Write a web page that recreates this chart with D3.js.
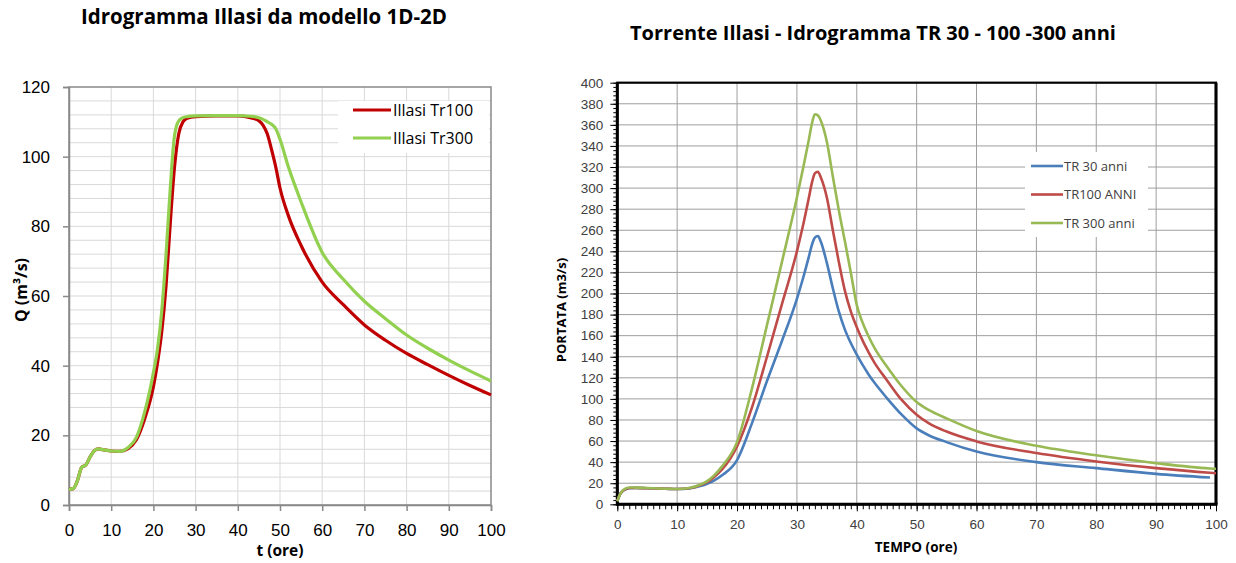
<!DOCTYPE html>
<meta charset="utf-8">
<style type="text/css">
    body { margin: 0; background: #fff; }
    svg { display: block; font-family: "Open Sans", Lato, sans-serif; }
    .left .tick text { font-size: 17px; fill: #000; }
    .right .tick text { font-size: 13.5px; fill: #404040; }
</style>
<body>
    <div id="canvas"></div>
</body>
<script src="https://d3js.org/d3.v7.min.js"></script>
<script>

// ---- left chart data: Idrogramma Illasi da modello 1D-2D
var tLeft  = [0, 1, 2, 3, 4, 5, 6, 7, 8, 10, 12, 14, 16, 18, 20, 21, 22, 23, 24, 25, 26, 27, 28, 30, 35, 40, 43, 45, 46, 47, 48, 49, 50, 52, 55, 60, 65, 70, 75, 80, 85, 90, 95, 100];
var qTr100 = [4.5, 4.7, 7, 10.8, 11.5, 13.8, 15.6, 16.1, 15.9, 15.5, 15.4, 16.2, 18.8, 25, 34, 41, 50, 63, 81, 97, 106.5, 110, 111, 111.5, 111.7, 111.7, 111.2, 110.3, 109, 106.5, 102, 97, 91, 83, 74.5, 64, 57.5, 51.7, 47.3, 43.5, 40.3, 37.2, 34.3, 31.6];
var qTr300 = [4.5, 4.7, 7, 10.8, 11.5, 13.8, 15.6, 16.1, 15.9, 15.5, 15.4, 16.5, 19.5, 27, 38, 45, 56, 72, 91, 106, 110.3, 111.2, 111.5, 111.7, 111.8, 111.8, 111.6, 111.2, 110.7, 110, 109.3, 108, 105, 97, 87, 72.5, 64.8, 58.5, 53.5, 48.8, 45, 41.6, 38.5, 35.6];
var leftNames  = ["Illasi Tr100", "Illasi Tr300"];
var leftColors = ["#c00000", "#92d050"];
var leftXTicks = [0, 10, 20, 30, 40, 50, 60, 70, 80, 90, 100];
var leftYTicks = [0, 20, 40, 60, 80, 100, 120];

// ---- right chart data: Torrente Illasi - Idrogramma TR 30 - 100 - 300 anni
var tRight = [0, 0.5, 1, 2, 3, 5, 8, 10, 12, 14, 15, 16, 17.5, 20, 22.5, 25, 27.5, 30, 31, 32, 32.5, 33, 33.5, 34, 35, 36, 37, 38, 39, 40, 41, 42, 43, 45, 47.5, 50, 52, 55, 60, 70, 80, 90, 99, 100];
var qTr30   = [3, 10, 13, 15.3, 15.5, 15.2, 14.8, 14.5, 15, 17.5, 19.5, 22, 27.5, 42, 77, 117, 155, 195, 214, 235, 246, 253, 254.5, 249, 229, 205, 183, 166, 153, 142, 132, 123, 115, 101, 85, 72, 65.5, 59, 50, 40, 34.3, 28.9, 25.4, null];
var qTr100r = [3, 10, 13, 15.5, 15.6, 15.2, 14.8, 14.5, 15.2, 18.5, 21, 25, 33, 55, 92, 140, 190, 240, 264, 291, 305, 314, 315.5, 310, 291, 260, 230, 203, 183, 168, 155, 144, 134, 118, 99, 85, 77, 69, 59.7, 48.6, 40.6, 34.3, 29.9, 29.5];
var qTr300r = [3, 10, 13.5, 16, 15.8, 15.4, 14.8, 14.5, 15.4, 19, 22, 26.5, 36, 59, 110, 170, 230, 291, 318, 346, 361, 370, 369, 364, 344, 311, 279, 250, 220, 189, 172, 159, 148, 131, 112, 97, 89.5, 81.5, 69.5, 55.5, 46.5, 39, 34, 33.7];
var rightNames  = ["TR 30 anni", "TR100 ANNI", "TR 300 anni"];
var rightColors = ["#4a7ebb", "#be4b48", "#98b954"];
var rightXTicks = [0, 10, 20, 30, 40, 50, 60, 70, 80, 90, 100];
var rightYTicks = d3.range(0, 401, 20);

var svg = d3.select("#canvas").append("svg")
    .attr("width", 1236)
    .attr("height", 563);

svg.append("rect").attr("width", 1236).attr("height", 563).attr("fill", "#fff");

function pairs(ts, qs) {
    return ts.map(function(t, i){ return { t: t, q: qs[i] }; });
}

/////////////////////// LEFT CHART ///////////////////////
var xL = d3.scaleLinear().domain([0, 100]).range([69, 491]);
var yL = d3.scaleLinear().domain([0, 120]).range([505, 87]);
var left = svg.append("g").attr("class", "left");

// grid - minor every 4, verticals every 10
left.selectAll("line.hgrid")
    .data(d3.range(4, 120, 4))
    .join("line")
        .attr("x1", xL(0)).attr("x2", xL(100))
        .attr("y1", function(d){ return yL(d); })
        .attr("y2", function(d){ return yL(d); })
        .attr("stroke", "#d9d9d9");

left.selectAll("line.vgrid")
    .data(leftXTicks.slice(1, -1))
    .join("line")
        .attr("x1", function(d){ return xL(d); })
        .attr("x2", function(d){ return xL(d); })
        .attr("y1", yL(0)).attr("y2", yL(120))
        .attr("stroke", "#d9d9d9");

left.append("rect")
    .attr("x", xL(0)).attr("y", yL(120))
    .attr("width", xL(100) - xL(0)).attr("height", yL(0) - yL(120))
    .attr("fill", "none").attr("stroke", "#898989").attr("stroke-width", 1.5);

var yAxisL = left.append("g")
    .attr("transform", "translate(" + xL(0) + ",0)")
    .call(d3.axisLeft(yL).tickValues(leftYTicks).tickSize(6).tickPadding(13));
var xAxisL = left.append("g")
    .attr("transform", "translate(0," + yL(0) + ")")
    .call(d3.axisBottom(xL).tickValues(leftXTicks).tickSize(6).tickPadding(13));
left.selectAll(".domain, .tick line").attr("stroke", "#898989").attr("stroke-width", 1.5);

var lineL = d3.line()
    .x(function(d){ return xL(d.t); })
    .y(function(d){ return yL(d.q); })
    .curve(d3.curveMonotoneX);

[qTr100, qTr300].forEach(function(qs, i){
    left.append("path")
        .datum(pairs(tLeft, qs))
        .attr("d", lineL)
        .attr("fill", "none")
        .attr("stroke", leftColors[i])
        .attr("stroke-width", 3.2)
        .attr("stroke-linejoin", "round");
});

// titles
left.append("text")
    .attr("x", 264).attr("y", 24)
    .attr("text-anchor", "middle")
    .style("font-weight", "bold").style("font-size", "20.5px")
    .text("Idrogramma Illasi da modello 1D-2D");

left.append("text")
    .attr("transform", "translate(21," + 290 + ") rotate(-90)")
    .attr("text-anchor", "middle")
    .attr("dy", "0.35em")
    .style("font-weight", "bold").style("font-size", "16px")
    .text("Q (m³/s)");

left.append("text")
    .attr("x", 280).attr("y", 556)
    .attr("text-anchor", "middle")
    .style("font-weight", "bold").style("font-size", "15.5px")
    .text("t (ore)");

// legend
var legL = left.append("g");
legL.append("rect").attr("x", 338).attr("y", 101).attr("width", 151).attr("height", 52).attr("fill", "#fff");
leftNames.forEach(function(n, i){
    var yy = 110 + i * 28;
    legL.append("line").attr("x1", 353).attr("x2", 391).attr("y1", yy).attr("y2", yy)
        .attr("stroke", leftColors[i]).attr("stroke-width", 3.2);
    legL.append("text").attr("x", 393).attr("y", yy).attr("dy", "0.35em")
        .style("font-size", "16px").text(n);
});

/////////////////////// RIGHT CHART ///////////////////////
var xR = d3.scaleLinear().domain([0, 100]).range([617.3, 1216]);
var yR = d3.scaleLinear().domain([0, 400]).range([504.3, 82.7]);
var right = svg.append("g").attr("class", "right");

right.selectAll("line.hgrid")
    .data(rightYTicks.slice(1, -1))
    .join("line")
        .attr("x1", xR(0)).attr("x2", xR(100))
        .attr("y1", function(d){ return yR(d); })
        .attr("y2", function(d){ return yR(d); })
        .attr("stroke", "#9e9e9e");

right.selectAll("line.vgrid")
    .data(rightXTicks.slice(1, -1))
    .join("line")
        .attr("x1", function(d){ return xR(d); })
        .attr("x2", function(d){ return xR(d); })
        .attr("y1", yR(0)).attr("y2", yR(400))
        .attr("stroke", "#9e9e9e");

// minor ticks
right.append("g")
    .attr("transform", "translate(" + xR(0) + ",0)")
    .call(d3.axisLeft(yR).tickValues(d3.range(0, 401, 4)).tickSize(4).tickFormat(""));
right.append("g")
    .attr("transform", "translate(0," + yR(0) + ")")
    .call(d3.axisBottom(xR).tickValues(d3.range(0, 101, 1)).tickSize(5).tickFormat(""));

// major ticks + labels
right.append("g")
    .attr("transform", "translate(" + xR(0) + ",0)")
    .call(d3.axisLeft(yR).tickValues(rightYTicks).tickSize(7).tickPadding(7));
right.append("g")
    .attr("transform", "translate(0," + yR(0) + ")")
    .call(d3.axisBottom(xR).tickValues(rightXTicks).tickSize(7).tickPadding(8));
right.selectAll(".domain").remove();
right.selectAll(".tick line").attr("stroke", "#000").attr("stroke-width", 1);

// frame
right.append("rect")
    .attr("x", xR(0)).attr("y", yR(400))
    .attr("width", xR(100) - xR(0)).attr("height", yR(0) - yR(400))
    .attr("fill", "none").attr("stroke", "#000").attr("stroke-width", 2.2);
right.append("line").attr("x1", xR(0)).attr("x2", xR(0)).attr("y1", yR(400)).attr("y2", yR(0) + 1.5)
    .attr("stroke", "#000").attr("stroke-width", 3);
right.append("line").attr("x1", xR(0)).attr("x2", xR(100) + 1.5).attr("y1", yR(0)).attr("y2", yR(0))
    .attr("stroke", "#000").attr("stroke-width", 3);
right.append("line").attr("x1", xR(100)).attr("x2", xR(100)).attr("y1", yR(400)).attr("y2", yR(0))
    .attr("stroke", "#000").attr("stroke-width", 3);

var lineR = d3.line()
    .defined(function(d){ return d.q != null; })
    .x(function(d){ return xR(d.t); })
    .y(function(d){ return yR(d.q); })
    .curve(d3.curveMonotoneX);

[qTr30, qTr100r, qTr300r].forEach(function(qs, i){
    right.append("path")
        .datum(pairs(tRight, qs))
        .attr("d", lineR)
        .attr("fill", "none")
        .attr("stroke", rightColors[i])
        .attr("stroke-width", 2.6)
        .attr("stroke-linejoin", "round");
});

right.append("text")
    .attr("x", 873).attr("y", 40)
    .attr("text-anchor", "middle")
    .style("font-weight", "bold").style("font-size", "20px")
    .text("Torrente Illasi - Idrogramma TR 30 - 100 -300 anni");

right.append("text")
    .attr("transform", "translate(561," + 310 + ") rotate(-90)")
    .attr("text-anchor", "middle")
    .attr("dy", "0.35em")
    .style("font-weight", "bold").style("font-size", "13px")
    .text("PORTATA (m3/s)");

right.append("text")
    .attr("x", 916).attr("y", 552)
    .attr("text-anchor", "middle")
    .style("font-weight", "bold").style("font-size", "13.5px")
    .text("TEMPO (ore)");

var legR = right.append("g");
legR.append("rect").attr("x", 1025).attr("y", 152).attr("width", 123).attr("height", 85).attr("fill", "#fff");
rightNames.forEach(function(n, i){
    var yy = 166 + i * 28.5;
    legR.append("line").attr("x1", 1031).attr("x2", 1063).attr("y1", yy).attr("y2", yy)
        .attr("stroke", rightColors[i]).attr("stroke-width", 2.6);
    legR.append("text").attr("x", 1064).attr("y", yy).attr("dy", "0.35em")
        .style("font-size", "13px").style("fill", "#404040").text(n);
});

</script>
